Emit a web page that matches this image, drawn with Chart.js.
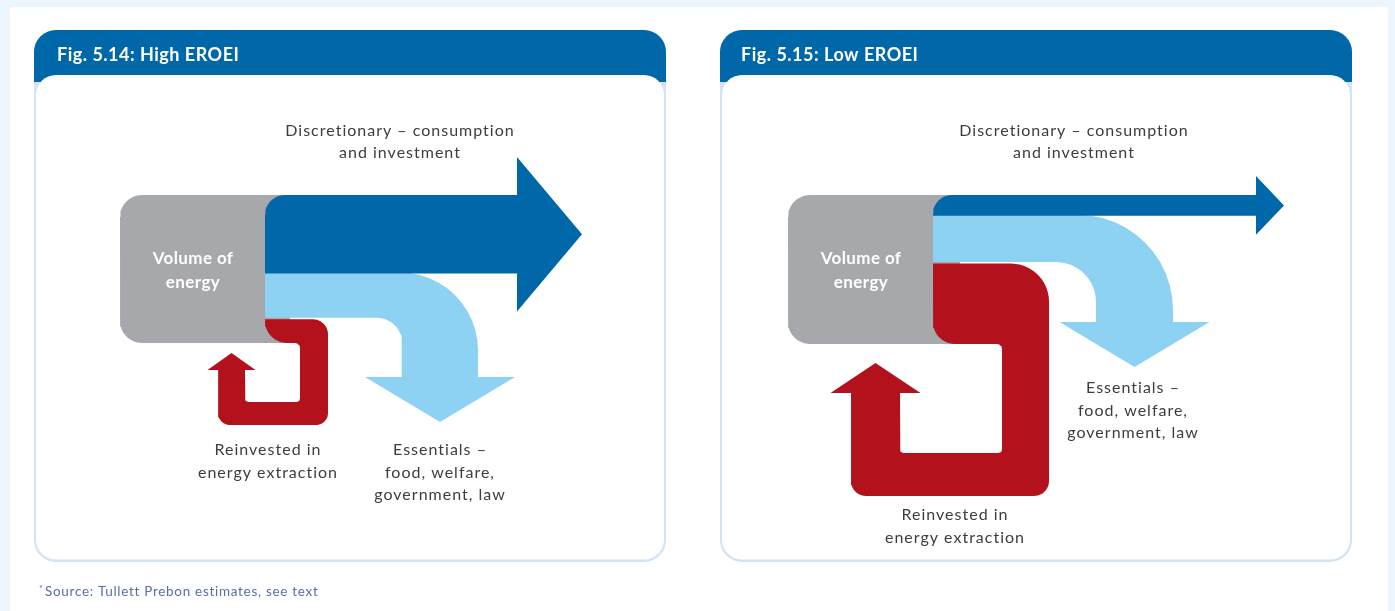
<!DOCTYPE html>
<html><head><meta charset="utf-8">
<script src="https://cdn.jsdelivr.net/npm/chart.js@4.4.1/dist/chart.umd.min.js"></script>
<style>
html,body{margin:0;padding:0;background:#eef6fd;overflow:hidden}
#wrap{position:absolute;left:0;top:0;width:1395px;height:611px}
</style>
</head><body><div id="wrap"><canvas id="c" width="1395" height="611"></canvas></div>
<script>
// ---------------- data ----------------
const panelTitles = ['Fig. 5.14: High EROEI', 'Fig. 5.15: Low EROEI'];
const flowCategories = ['Discretionary', 'Essentials', 'Reinvested'];
const discretionaryShare = [53, 14];
const essentialsShare = [30, 31];
const reinvestedShare = [17, 55];
const sourceLabel = ['Volume of', 'energy'];
const discretionaryLabel = ['Discretionary \u2013 consumption', 'and investment'];
const essentialsLabel = ['Essentials \u2013', 'food, welfare,', 'government, law'];
const reinvestedLabel = ['Reinvested in', 'energy extraction'];
const footnote = 'Source: Tullett Prebon estimates, see text';

// ---------------- layout (positions / sizes) ----------------
const layout = [
  { panel:[34,30,666,562], title:[57,55],
    box:{x:120,y:195,w:170,h:148,label:[193,259]}, flowX:265,
    disc:{headX:517, tipX:582, headExtra:38, label:[400,131]},
    ess:{outerX:478, outerR:78, innerX:402, innerR:25, headY:377, headHalf:75, tipY:422, label:[440,450]},
    rei:{rightX:328, rightW:28, bottomY:425, bottomW:23, leftX:218, leftW:27, headY:370, headHalf:24, tipY:353, topR:15, botR:12, label:[268,450]} },
  { panel:[720,30,1352,562], title:[741,55],
    box:{x:788,y:195,w:172,h:149,label:[861,259]}, flowX:933,
    disc:{headX:1256, tipX:1284, headExtra:19, label:[1074,131]},
    ess:{outerX:1173, outerR:95, innerX:1096, innerR:40, headY:322, headHalf:75, tipY:367, label:[1133,388]},
    rei:{rightX:1049, rightW:47, bottomY:496, bottomW:43, leftX:851, leftW:49, headY:393, headHalf:45, tipY:363, topR:38, botR:15, label:[955,515]} }
];
const colors = { disc:'#0067a8', ess:'#8dd2f3', rei:'#b3121d', box:'#a7a8ab', header:'#0067a8', border:'#d2e4f4', text:'#3d3d3d' };

// ---------------- geometry helpers ----------------
function filletPoly(verts, steps) {
  steps = steps || 12;
  const out = []; const n = verts.length;
  for (let i = 0; i < n; i++) {
    const [px, py, r] = verts[i];
    if (!r) { out.push({x:px, y:py}); continue; }
    const [ax, ay] = verts[(i - 1 + n) % n], [bx, by] = verts[(i + 1) % n];
    let u1x = px - ax, u1y = py - ay; const l1 = Math.hypot(u1x, u1y); u1x /= l1; u1y /= l1;
    let u2x = bx - px, u2y = by - py; const l2 = Math.hypot(u2x, u2y); u2x /= l2; u2y /= l2;
    const rIn = Array.isArray(r) ? r[0] : r, rOut = Array.isArray(r) ? r[1] : r;
    const cx = px - rIn * u1x + rOut * u2x, cy = py - rIn * u1y + rOut * u2y;
    for (let k = 0; k <= steps; k++) {
      const t = k / steps * Math.PI / 2;
      out.push({x: cx - rOut * Math.cos(t) * u2x + rIn * Math.sin(t) * u1x,
                y: cy - rOut * Math.cos(t) * u2y + rIn * Math.sin(t) * u1y});
    }
  }
  return out;
}

function buildDatasets() {
  const sets = [];
  layout.forEach((L, i) => {
    const b = L.box;
    const total = discretionaryShare[i] + essentialsShare[i] + reinvestedShare[i];
    const t1 = b.h * discretionaryShare[i] / total;
    const t2 = b.h * essentialsShare[i] / total;
    const y0 = b.y, y1 = y0 + t1, y2 = y1 + t2, y3 = b.y + b.h;
    const fx = L.flowX;
    // grey source box (left corners rounded)
    sets.push({ label: sourceLabel.join(' '), color: colors.box,
      pts: filletPoly([[b.x, b.y, 22], [b.x + b.w, b.y, 0], [b.x + b.w, y3, 0], [b.x, y3, 22]]) });
    // reinvested loop (red)
    const R = L.rei, rc = R.leftX + R.leftW / 2;
    sets.push({ label: flowCategories[2], color: colors.rei,
      pts: filletPoly([[fx, y2 + 1.5, 0], [R.rightX, y2 + 1.5, R.topR], [R.rightX, R.bottomY, R.botR], [R.leftX, R.bottomY, R.botR],
        [R.leftX, R.headY, 0], [rc - R.headHalf, R.headY, 0], [rc, R.tipY, 0], [rc + R.headHalf, R.headY, 0],
        [R.leftX + R.leftW, R.headY, 0], [R.leftX + R.leftW, R.bottomY - R.bottomW, 4], [R.rightX - R.rightW, R.bottomY - R.bottomW, 4],
        [R.rightX - R.rightW, y3, 5], [fx, y3, Math.min(22, y3 - y2 - 3)]]) });
    // essentials (light blue)
    const E = L.ess, ec = (E.innerX + E.outerX) / 2;
    sets.push({ label: flowCategories[1], color: colors.ess,
      pts: filletPoly([[fx, y1 - 1, 0], [E.outerX, y1 - 1, E.outerR], [E.outerX, E.headY, 0], [ec + E.headHalf, E.headY, 0],
        [ec, E.tipY, 0], [ec - E.headHalf, E.headY, 0], [E.innerX, E.headY, 0], [E.innerX, y2, E.innerR], [fx, y2, 0]]) });
    // discretionary (dark blue)
    const D = L.disc, mid = (y0 + y1) / 2, hh = t1 / 2 + D.headExtra;
    sets.push({ label: flowCategories[0], color: colors.disc,
      pts: filletPoly([[fx, y0, Math.min(20, t1 - 2)], [D.headX, y0, 0], [D.headX, mid - hh, 0], [D.tipX, mid, 0],
        [D.headX, mid + hh, 0], [D.headX, y1, 0], [fx, y1, 0]]) });
  });
  const n = sets.length;
  return sets.map((s, k) => ({
    label: s.label, data: s.pts, showLine: true, fill: 'shape',
    backgroundColor: s.color, borderColor: 'rgba(0,0,0,0)', borderWidth: 0,
    pointRadius: 0, pointHoverRadius: 0, tension: 0, order: n - k
  }));
}

// ---------------- decoration plugin ----------------
function rrPath(ctx, x0, y0, x1, y1, r) {
  ctx.beginPath();
  ctx.moveTo(x0 + r, y0); ctx.lineTo(x1 - r, y0); ctx.arcTo(x1, y0, x1, y0 + r, r);
  ctx.lineTo(x1, y1 - r); ctx.arcTo(x1, y1, x1 - r, y1, r);
  ctx.lineTo(x0 + r, y1); ctx.arcTo(x0, y1, x0, y1 - r, r);
  ctx.lineTo(x0, y0 + r); ctx.arcTo(x0, y0, x0 + r, y0, r);
  ctx.closePath();
}
function setLS(ctx, v) { try { ctx.letterSpacing = v; } catch (e) {} }
const deco = {
  id: 'deco',
  beforeDatasetsDraw(chart) {
    const ctx = chart.ctx, X = v => chart.scales.x.getPixelForValue(v), Y = v => chart.scales.y.getPixelForValue(v);
    ctx.save();
    ctx.fillStyle = '#eef6fd'; ctx.fillRect(0, 0, chart.width, chart.height);
    ctx.fillStyle = '#ffffff'; ctx.fillRect(X(10), Y(7), X(1388) - X(10), Y(611) - Y(7));
    layout.forEach((L, i) => {
      const [a, b, c, d] = L.panel;
      const x0 = X(a), y0 = Y(b), x1 = X(c), y1 = Y(d);
      rrPath(ctx, x0, y0, x1, y1, 22); ctx.fillStyle = colors.border; ctx.fill();
      ctx.save(); rrPath(ctx, x0, y0, x1, y1, 22); ctx.clip();
      ctx.fillStyle = colors.header; ctx.fillRect(x0, y0, x1 - x0, 52);
      ctx.restore();
      rrPath(ctx, x0 + 2, y0 + 45, x1 - 2, y1 - 2.5, 20); ctx.fillStyle = '#ffffff'; ctx.fill();
      ctx.fillStyle = '#ffffff'; ctx.font = 'bold 18px Lato'; ctx.textBaseline = 'middle'; ctx.textAlign = 'left';
      setLS(ctx, '0.5px');
      ctx.fillText(panelTitles[i], X(L.title[0]), Y(L.title[1]));
      setLS(ctx, '0px');
    });
    ctx.restore();
  },
  afterDatasetsDraw(chart) {
    const ctx = chart.ctx, X = v => chart.scales.x.getPixelForValue(v), Y = v => chart.scales.y.getPixelForValue(v);
    ctx.save();
    ctx.textAlign = 'center'; ctx.textBaseline = 'middle';
    const lines = (arr, pos, lh) => arr.forEach((t, k) => ctx.fillText(t, X(pos[0]), Y(pos[1] + k * lh)));
    layout.forEach(L => {
      ctx.fillStyle = '#ffffff'; ctx.font = 'bold 17px Lato'; setLS(ctx, '0.4px');
      lines(sourceLabel, L.box.label, 24);
      ctx.fillStyle = colors.text; ctx.font = '16px Lato'; setLS(ctx, '1px');
      lines(discretionaryLabel, L.disc.label, 22);
      lines(essentialsLabel, L.ess.label, 22.5);
      lines(reinvestedLabel, L.rei.label, 22.5);
      setLS(ctx, '0px');
    });
    ctx.fillStyle = '#5a6ea6'; ctx.textAlign = 'left';
    ctx.font = '9px Lato'; ctx.fillText('*', X(39), Y(589));
    ctx.font = '13.5px Lato'; setLS(ctx, '0.7px'); ctx.fillText(footnote, X(45), Y(592)); setLS(ctx, '0px');
    ctx.restore();
  }
};

new Chart(document.getElementById('c'), {
  type: 'scatter',
  data: { datasets: buildDatasets() },
  options: {
    responsive: false, animation: false, events: [],
    layout: { padding: 0 },
    scales: {
      x: { type: 'linear', min: 0, max: 1395, display: false },
      y: { type: 'linear', min: 0, max: 611, reverse: true, display: false }
    },
    plugins: { legend: { display: false }, tooltip: { enabled: false }, title: { display: false } }
  },
  plugins: [deco]
});
</script>
</body></html>
